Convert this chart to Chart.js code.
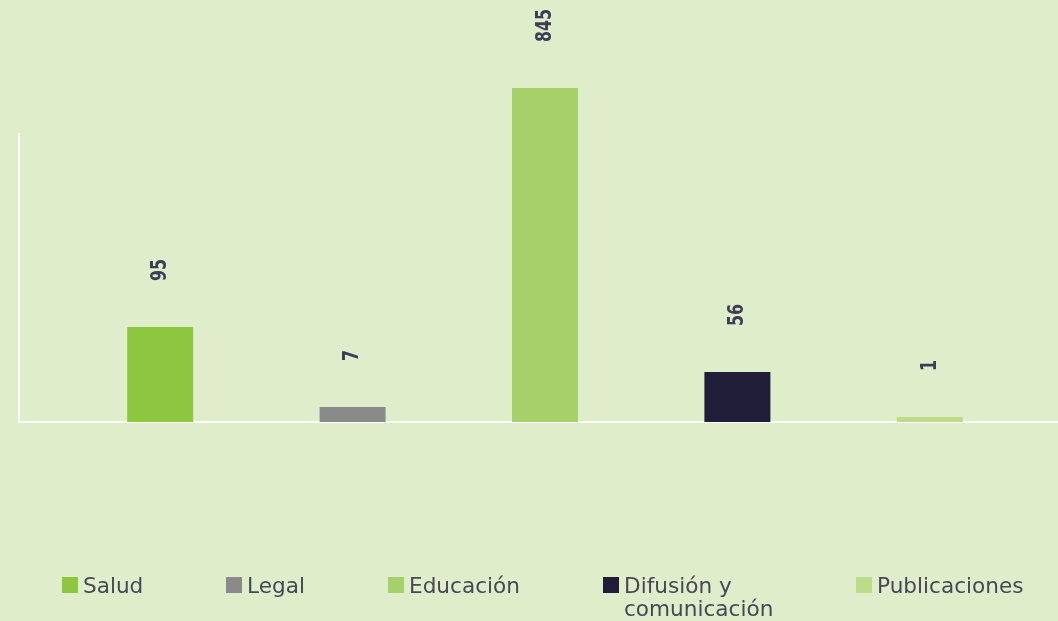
<!DOCTYPE html>
<html lang="es">
<head>
<meta charset="utf-8">
<title>Áreas</title>
<script src="https://cdn.jsdelivr.net/npm/chart.js@4/dist/chart.umd.min.js"></script>
<style>
    html, body {
        margin: 0;
        padding: 0;
        background: #e0edcb;
    }
    #wrap {
        position: relative;
        width: 1058px;
        height: 621px;
        overflow: hidden;
    }
    #legend {
        position: absolute;
        left: 0;
        top: 0;
        width: 100%;
        height: 100%;
        pointer-events: none;
        font-family: 'DejaVu Sans', sans-serif;
        font-size: 21.6px;
        color: #474855;
    }
    .leg-item {
        position: absolute;
        top: 574px;
        display: flex;
        align-items: flex-start;
        line-height: 23px;
    }
    .leg-box {
        width: 16px;
        height: 16px;
        margin-top: 3px;
        margin-right: 5px;
        flex: none;
    }
</style>
</head>
<body>
<div id="wrap">
    <canvas id="chart"></canvas>
    <div id="legend"></div>
</div>
<script>
// Categories and colours
const categories = ['Salud', 'Legal', 'Educación', ['Difusión y', 'comunicación'], 'Publicaciones'];
const barColors = ['#8dc63f', '#8a8a8a', '#a6d06a', '#1f1d38', '#bcdc8c'];

// Numbers printed above the bars
const valueLabels = ['95', '7', '845', '56', '1'];

// Bar heights as drawn in the picture (not proportional to the printed numbers)
const barHeights = [95, 15, 334, 50, 5];

// Left edge of each legend item (px)
const legendLeft = [62, 226, 388, 603, 856];

// Axis lines (white) drawn under the bars
const axisLines = {
    id: 'axisLines',
    beforeDatasetsDraw(chart) {
        const ctx = chart.ctx;
        const y0 = chart.scales.y.getPixelForValue(0);
        const yTop = chart.scales.y.getPixelForValue(289);
        ctx.save();
        ctx.strokeStyle = '#ffffff';
        ctx.lineWidth = 2;
        ctx.beginPath();
        ctx.moveTo(19, yTop);
        ctx.lineTo(19, y0 + 1);
        ctx.moveTo(18, y0);
        ctx.lineTo(chart.width, y0);
        ctx.stroke();
        ctx.restore();
    }
};

// Rotated value labels above each bar (condensed look)
const valueText = {
    id: 'valueText',
    afterDatasetsDraw(chart) {
        const ctx = chart.ctx;
        const meta = chart.getDatasetMeta(0);
        ctx.save();
        ctx.fillStyle = '#3d3d55';
        ctx.font = "bold 22px 'Liberation Sans Narrow', 'DejaVu Sans Condensed', sans-serif";
        ctx.textAlign = 'left';
        ctx.textBaseline = 'middle';
        meta.data.forEach((bar, i) => {
            ctx.save();
            ctx.translate(bar.x, bar.y - 46);
            ctx.rotate(-Math.PI / 2);
            ctx.scale(0.8, 1);
            ctx.fillText(valueLabels[i], 0, 0);
            ctx.restore();
        });
        ctx.restore();
    }
};

const ctx = document.getElementById('chart').getContext('2d');
new Chart(ctx, {
    type: 'bar',
    data: {
        labels: categories,
        datasets: [{
            data: barHeights,
            backgroundColor: barColors,
            borderWidth: 0,
            barPercentage: 1,
            categoryPercentage: 0.343
        }]
    },
    options: {
        responsive: true,
        maintainAspectRatio: false,
        animation: false,
        layout: {
            padding: { left: 64, right: 32, top: 22, bottom: 199 }
        },
        scales: {
            x: { display: false },
            y: { display: false, min: 0, max: 400 }
        },
        plugins: {
            legend: { display: false },
            tooltip: { enabled: false }
        }
    },
    plugins: [axisLines, valueText]
});

// HTML legend
const legendEl = document.getElementById('legend');
categories.forEach((cat, i) => {
    const item = document.createElement('div');
    item.className = 'leg-item';
    item.style.left = legendLeft[i] + 'px';

    const box = document.createElement('span');
    box.className = 'leg-box';
    box.style.background = barColors[i];

    const text = document.createElement('span');
    text.innerHTML = Array.isArray(cat) ? cat.join('<br>') : cat;

    item.appendChild(box);
    item.appendChild(text);
    legendEl.appendChild(item);
});
</script>
</body>
</html>
